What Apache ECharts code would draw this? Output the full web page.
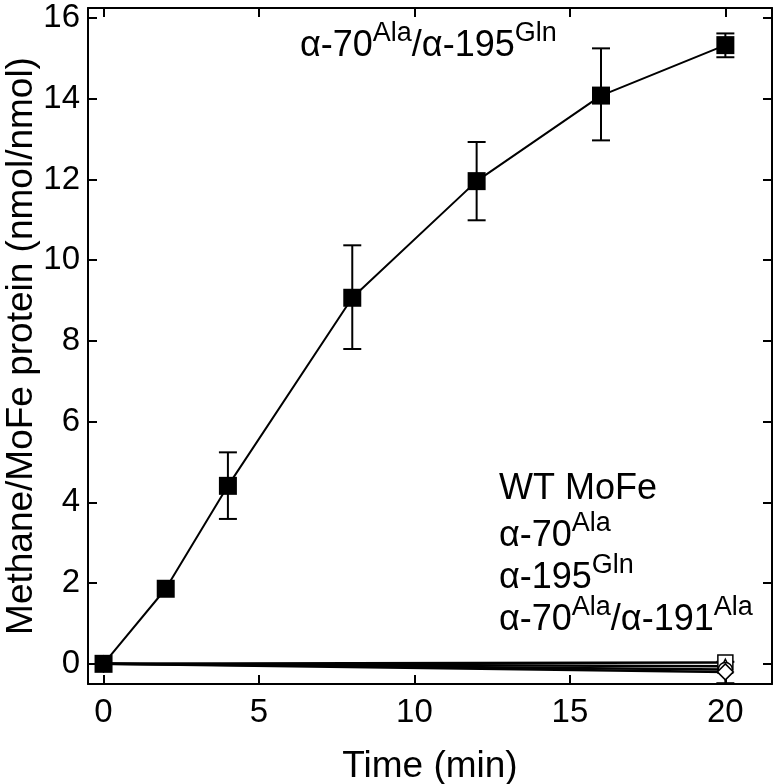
<!DOCTYPE html>
<html><head><meta charset="utf-8">
<script src="https://cdn.jsdelivr.net/npm/echarts@6/dist/echarts.min.js"></script>
<style>html,body{margin:0;padding:0;background:#fff}#c{width:776px;height:784px}</style>
</head><body><div id="c"></div>
<script>
// ---- data ----
var timeMain = [0, 2, 4, 8, 12, 16, 20];
var mutantMain = [0, 1.86, 4.41, 9.07, 11.96, 14.08, 15.33];   // α-70Ala/α-195Gln
var mutantErrLow = [null, null, 3.59, 7.80, 10.99, 12.97, 15.03];
var mutantErrHigh = [null, null, 5.24, 10.37, 12.93, 15.25, 15.62];
var timeOther = [0, 20];
var wtMoFe = [0, 0.03];
var a70Ala = [0, -0.06];
var a195Gln = [0, -0.14];
var a70a191 = [0, -0.2];
var a70a191ErrLow = [null, -0.48];
var a70a191ErrHigh = [null, 0.05];
var xTicks = [0, 5, 10, 15, 20];
var yTicks = [0, 2, 4, 6, 8, 10, 12, 14, 16];

var FONT = 'Liberation Sans';
function pairs(xs, ys) { return xs.map(function (x, i) { return [x, ys[i]]; }); }
function errData(xs, lo, hi) {
  var out = [];
  xs.forEach(function (x, i) { if (lo[i] != null) out.push([x, lo[i], hi[i]]); });
  return out;
}
function errSeries(data) {
  return {
    type: 'custom', data: data, z: 1,
    renderItem: function (params, api) {
      var x = api.value(0);
      var lo = api.coord([x, api.value(1)]);
      var hi = api.coord([x, api.value(2)]);
      var w = 9;
      var st = { stroke: '#000', lineWidth: 2 };
      return { type: 'group', children: [
        { type: 'line', shape: { x1: lo[0], y1: lo[1], x2: hi[0], y2: hi[1] }, style: st },
        { type: 'line', shape: { x1: lo[0] - w, y1: lo[1], x2: lo[0] + w, y2: lo[1] }, style: st },
        { type: 'line', shape: { x1: hi[0] - w, y1: hi[1], x2: hi[0] + w, y2: hi[1] }, style: st }
      ]};
    }
  };
}
function openSeries(name, ys, symbol, size) {
  return {
    name: name, type: 'line', data: pairs(timeOther, ys), symbol: symbol, symbolSize: size,
    showAllSymbol: true, z: 2,
    lineStyle: { color: '#000', width: 2.5 },
    itemStyle: { color: '#fff', borderColor: '#000', borderWidth: 1.5 }
  };
}
var axisLineStyle = { show: true, onZero: false, lineStyle: { color: '#000', width: 2 } };
var tickStyle = { lineStyle: { color: '#000', width: 2 } };

var chart = echarts.init(document.getElementById('c'), null, { renderer: 'canvas' });
chart.setOption({
  animation: false,
  backgroundColor: '#fff',
  grid: { left: 88, right: 4, top: 8, bottom: 100, containLabel: false, outerBoundsMode: 'none' },
  xAxis: [{
    type: 'value', min: -0.5, max: 21.5, position: 'bottom',
    name: 'Time (min)', nameLocation: 'middle', nameGap: 64,
    nameTextStyle: { fontFamily: FONT, fontSize: 37, color: '#000' },
    axisLine: axisLineStyle,
    axisTick: Object.assign({ inside: true, length: 9, customValues: xTicks }, tickStyle),
    axisLabel: { customValues: xTicks, fontFamily: FONT, fontSize: 33, color: '#000', margin: 12 },
    splitLine: { show: false }
  }, {
    type: 'value', min: -0.5, max: 21.5, position: 'top',
    axisLine: axisLineStyle,
    axisTick: Object.assign({ inside: true, length: 9, customValues: xTicks }, tickStyle),
    axisLabel: { show: false }, splitLine: { show: false }
  }],
  yAxis: [{
    type: 'value', min: -0.5, max: 16.25, position: 'left',
    name: 'Methane/MoFe protein (nmol/nmol)', nameLocation: 'middle', nameGap: 48,
    nameMoveOverlap: false,
    nameTextStyle: { fontFamily: FONT, fontSize: 37, color: '#000' },
    axisLine: axisLineStyle,
    axisTick: Object.assign({ inside: true, length: 9, customValues: yTicks }, tickStyle),
    axisLabel: { customValues: yTicks, fontFamily: FONT, fontSize: 33, color: '#000', margin: 8 },
    splitLine: { show: false }
  }, {
    type: 'value', min: -0.5, max: 16.25, position: 'right',
    axisLine: axisLineStyle,
    axisTick: Object.assign({ inside: true, length: 9, customValues: yTicks }, tickStyle),
    axisLabel: { show: false }, splitLine: { show: false }
  }],
  series: [
    openSeries('WT MoFe', wtMoFe, 'rect', 15),
    openSeries('α-70Ala', a70Ala, 'triangle', 14),
    openSeries('α-195Gln', a195Gln, 'circle', 14),
    openSeries('α-70Ala/α-191Ala', a70a191, 'diamond', 16),
    errSeries(errData(timeOther, a70a191ErrLow, a70a191ErrHigh)),
    errSeries(errData(timeMain, mutantErrLow, mutantErrHigh)),
    {
      name: 'α-70Ala/α-195Gln', type: 'line', data: pairs(timeMain, mutantMain),
      symbol: 'rect', symbolSize: 18, z: 3,
      lineStyle: { color: '#000', width: 2 },
      itemStyle: { color: '#000' }
    }
  ],
  graphic: (function () {
    var rich = {
      n: { fontFamily: FONT, fontSize: 36, color: '#000', lineHeight: 44, verticalAlign: 'bottom' },
      s: { fontFamily: FONT, fontSize: 27, color: '#000', lineHeight: 44, verticalAlign: 'top' }
    };
    function t(x, y, str) {
      return { type: 'text', left: x, top: y, z: 10, style: { text: str, rich: rich } };
    }
    return [
      t(300, 20, '{n|α-70}{s|Ala}{n|/α-195}{s|Gln}'),
      t(499, 471, '{n|WT MoFe}'),
      t(499, 510, '{n|α-70}{s|Ala}'),
      t(499, 552, '{n|α-195}{s|Gln}'),
      t(499, 594, '{n|α-70}{s|Ala}{n|/α-191}{s|Ala}')
    ];
  })()
});
</script></body></html>
